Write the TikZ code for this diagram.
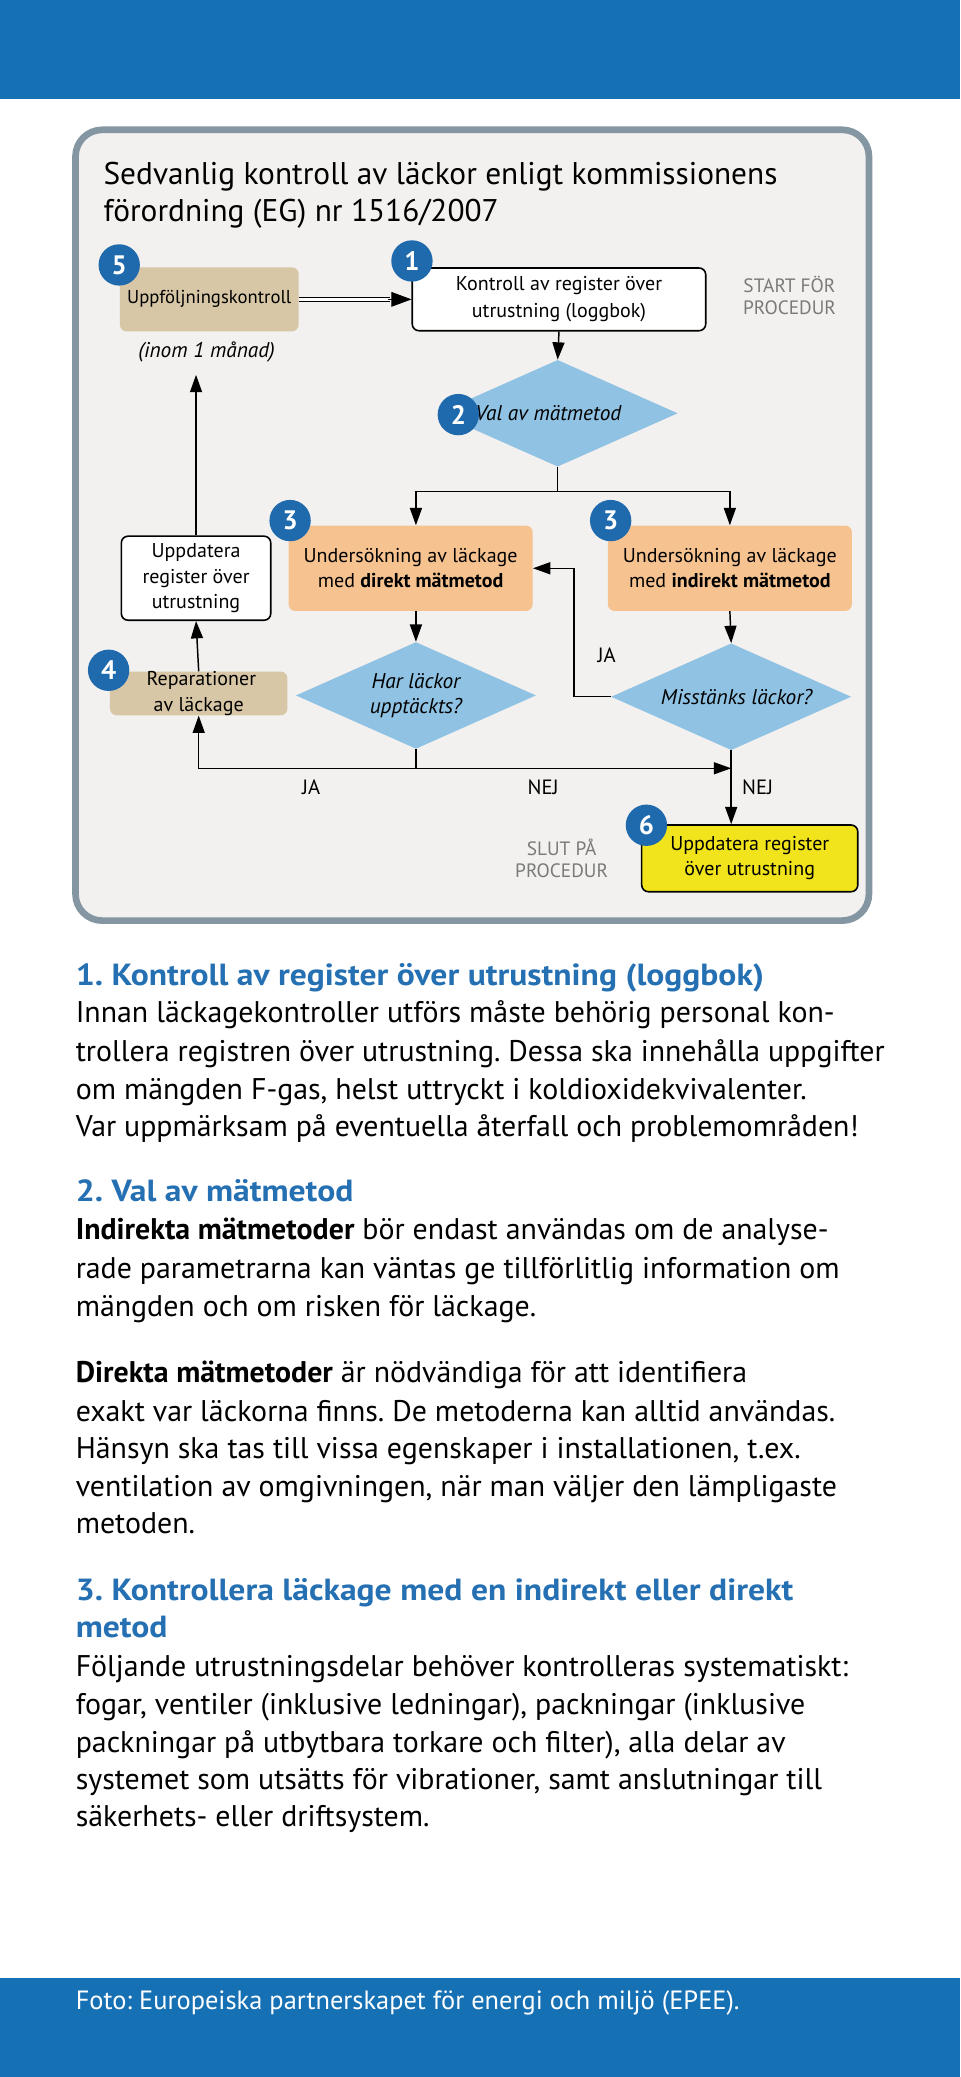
\documentclass[tikz,border=0pt]{standalone}
\usepackage{fontspec}
\setmainfont{PT Sans}
\newfontfamily\headfont[FakeStretch=1.1]{PT Sans}
\usetikzlibrary{shapes.geometric,arrows.meta,calc}
\definecolor{ecblue}{HTML}{1670B4}
\definecolor{headblue}{HTML}{2470B2}
\definecolor{numblue}{HTML}{1F69AD}
\definecolor{diablue}{HTML}{8FC2E3}
\definecolor{orangebox}{HTML}{F6C290}
\definecolor{tanbox}{HTML}{D8C7A6}
\definecolor{yellowbox}{HTML}{F2E41C}
\definecolor{panelfill}{HTML}{F2F1EF}
\definecolor{panelborder}{HTML}{8496A2}
\definecolor{greytext}{HTML}{7A7A7A}
\frenchspacing
\begin{document}
\begin{tikzpicture}[x=0.99308pt,y=-0.99308pt,
  every node/.style={font=\fontsize{15}{19}\selectfont, align=center, inner sep=0},
  boxw/.style={draw=black, line width=1.2pt, fill=white, rounded corners=5pt},
  boxo/.style={fill=orangebox, rounded corners=5pt},
  boxt/.style={fill=tanbox, rounded corners=5pt},
  boxy/.style={draw=black, line width=1.2pt, fill=yellowbox, rounded corners=5pt},
  dia/.style={diamond, fill=diablue, aspect=2.25, minimum width=180, minimum height=80, font=\fontsize{16}{19}\selectfont\itshape},
  num/.style={circle, fill=numblue, text=white, minimum size=31, font=\fontsize{20}{20}\selectfont\bfseries},
  arr/.style={line width=1.1pt, -{Triangle[length=13pt,width=9pt]}},
  ln/.style={line width=1.1pt},
  lab/.style={font=\fontsize{15.5}{19}\selectfont},
  grey/.style={text=greytext, font=\fontsize{14.5}{17}\selectfont},
  body/.style={anchor=base west, font=\fontsize{22.4}{28}\selectfont\frenchspacing, align=left},
  head/.style={anchor=base west, font=\fontsize{22.9}{28}\headfont\bfseries, text=headblue, align=left}
]
\useasboundingbox (0,0) rectangle (725,1568);
\fill[white] (0,0) rectangle (725,1568);
% bands
\fill[ecblue] (0,0) rectangle (725,75);
\fill[ecblue] (0,1493) rectangle (725,1568);
% panel
\draw[panelborder, fill=panelfill, line width=5pt, rounded corners=20pt] (57,98) rectangle (656,695);
\node[anchor=base west, align=left, font=\fontsize{23.5}{28}\selectfont] (title) at (78,139) {Sedvanlig kontroll av läckor enligt kommissionens};
\node[anchor=base west, align=left, font=\fontsize{23.5}{28}\selectfont] (title2) at (78,167) {förordning (EG) nr 1516/2007};

% nodes
\node[boxt, minimum width=134, minimum height=48, font=\fontsize{14}{19}\selectfont] (n5) at (158,226) {Uppföljningskontroll};
\node[boxw, minimum width=220, minimum height=47, font=\fontsize{15}{20}\selectfont] (n1) at (422,226) {Kontroll av register över\\utrustning (loggbok)};
\node[grey] (start) at (596,223) {START FÖR\\PROCEDUR};
\node[font=\fontsize{16}{19}\selectfont\itshape] (inom) at (156,266) {(inom 1 månad)};
\coordinate (inomc) at (148,283);
\node[dia] (d2) at (421,312) {\hspace*{-14pt}Val av mätmetod};
\coordinate (split) at (421,371);
\node[boxo, minimum width=183, minimum height=64] (b3l) at (310,429) {Undersökning av läckage\\med \textbf{direkt mätmetod}};
\node[boxo, minimum width=183, minimum height=64] (b3r) at (551,429) {Undersökning av läckage\\med \textbf{indirekt mätmetod}};
\node[boxw, minimum width=112, minimum height=63] (up) at (148,436.5) {Uppdatera\\register över\\utrustning};
\node[boxt, minimum width=133, minimum height=31] (b4) at (150,523.5) {\hspace*{4pt}Reparationer\\av läckage};
\node[dia] (dl) at (314,525) {Har läckor\\upptäckts?};
\node[dia] (dr) at (552,526) {\hspace*{8pt}Misstänks läckor?};
\coordinate (jl) at (314,580);
\node[boxy, minimum width=162, minimum height=50] (b6) at (566,648) {Uppdatera register\\över utrustning};
\node[grey] (slut) at (424,648) {SLUT PÅ\\PROCEDUR};

% labels
\node[lab] (ja1) at (458,495) {JA};
\node[lab] (ja2) at (235,594) {JA};
\node[lab] (nej1) at (410,594) {NEJ};
\node[lab] (nej2) at (572,594) {NEJ};

% connectors
\draw[line width=0.7pt, double, double distance=1.8pt] (n5.east) -- ($(n1.west)+(-16,0)$);
\draw[-{Triangle[length=15pt,width=11pt]}, line width=0.5pt] ($(n1.west)+(-18,0)$) -- (n1.west);
\draw[arr] (n1.south) -- (d2.north);
\draw[ln] (d2.south) -- (split);
\draw[arr] (split) -| (dl.north |- b3l.north);
\draw[arr] (split) -| (b3r.north);
\draw[arr] (dl.north |- b3l.south) -- (dl.north);
\draw[arr] (b3r.south) -- (dr.north);
\draw[arr] (dr.west) -- ++(-28,0) |- (b3l.east);
\draw[ln] (dl.south) -- (jl);
\draw[arr] (jl) -- (jl -| dr.south);
\draw[arr] (jl) -| (b4.south);
\draw[arr] (dr.south) -- (dr.south |- b6.north);
\draw[arr] (b4.north) -- (up.south);
\draw[arr] (up.north) -- (inomc);

% numbers
\node[num] (c5) at (90,200) {5};
\node[num] (c1) at (311,197) {1};
\node[num] (c2) at (346,313) {2};
\node[num] (c3a) at (219,393) {3};
\node[num] (c3b) at (461,393) {3};
\node[num] (c4) at (82,506) {4};
\node[num] (c6) at (488,623) {6};

% text
\node[head] (h1) at (57,744) {1. Kontroll av register över utrustning (loggbok)};
\node[body] (p1a) at (57,772) {Innan läckagekontroller utförs måste behörig personal kon-};
\node[body] (p1b) at (57,801) {trollera registren över utrustning. Dessa ska innehålla uppgifter};
\node[body] (p1c) at (57,830) {om mängden F-gas, helst uttryckt i koldioxidekvivalenter.};
\node[body] (p1d) at (57,858) {Var uppmärksam på eventuella återfall och problemområden!};
\node[head] (h2) at (57,907) {2. Val av mätmetod};
\node[body] (p2a) at (57,936) {\textbf{Indirekta mätmetoder} bör endast användas om de analyse-};
\node[body] (p2b) at (57,965) {rade parametrarna kan väntas ge tillförlitlig information om};
\node[body] (p2c) at (57,994) {mängden och om risken för läckage.};
\node[body] (p3a) at (57,1044) {\textbf{Direkta mätmetoder} är nödvändiga för att identifiera};
\node[body] (p3b) at (57,1073) {exakt var läckorna finns. De metoderna kan alltid användas.};
\node[body] (p3c) at (57,1101) {Hänsyn ska tas till vissa egenskaper i installationen, t.ex.};
\node[body] (p3d) at (57,1130) {ventilation av omgivningen, när man väljer den lämpligaste};
\node[body] (p3e) at (57,1158) {metoden.};
\node[head] (h3) at (57,1208) {3. Kontrollera läckage med en indirekt eller direkt};
\node[head] (h3b) at (57,1236) {metod};
\node[body] (p4a) at (57,1266) {Följande utrustningsdelar behöver kontrolleras systematiskt:};
\node[body] (p4b) at (57,1294) {fogar, ventiler (inklusive ledningar), packningar (inklusive};
\node[body] (p4c) at (57,1323) {packningar på utbytbara torkare och filter), alla delar av};
\node[body] (p4d) at (57,1351) {systemet som utsätts för vibrationer, samt anslutningar till};
\node[body] (p4e) at (57,1379) {säkerhets- eller driftsystem.};
\node[anchor=base west, text=white, font=\fontsize{19.8}{22}\selectfont\frenchspacing] (foto) at (57,1517) {Foto: Europeiska partnerskapet för energi och miljö (EPEE).};
\end{tikzpicture}
\end{document}
